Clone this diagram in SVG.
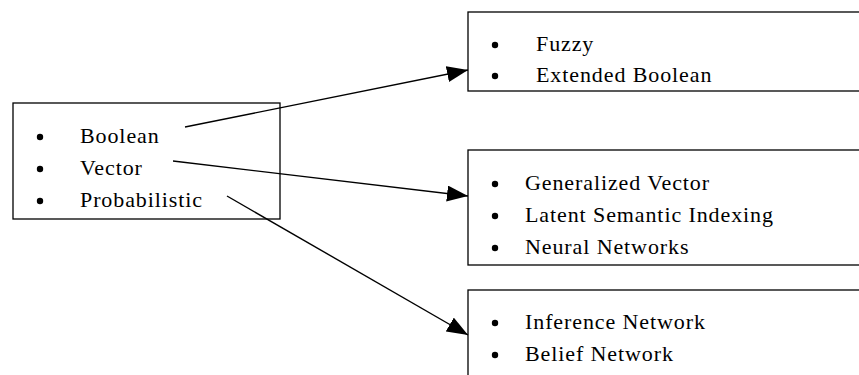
<svg xmlns="http://www.w3.org/2000/svg" width="859" height="375" viewBox="0 0 859 375">
<style>
.box{fill:#fff;stroke:#000;stroke-width:1.3}
.t{font-family:"Liberation Serif","DejaVu Serif",serif;font-size:22px;fill:#000;letter-spacing:0.9px}
.b{fill:#000}
.c{stroke:#000;stroke-width:1.4;fill:none;marker-end:url(#ah)}
</style>
<defs>
<marker id="ah" viewBox="0 0 21 16" refX="21" refY="8" markerWidth="21" markerHeight="16" markerUnits="userSpaceOnUse" orient="auto">
<path d="M0,0 L21,8 L0,16 Z" fill="#000"/>
</marker>
</defs>
<g id="models">
<rect class="box" x="13" y="103" width="267" height="116"/>
<circle class="b" cx="40" cy="137" r="3.2"/><text class="t" x="80" y="143">Boolean</text>
<circle class="b" cx="40" cy="169" r="3.2"/><text class="t" x="80" y="175">Vector</text>
<circle class="b" cx="40" cy="201" r="3.2"/><text class="t" x="80" y="207">Probabilistic</text>
</g>
<g id="settheoretic">
<rect class="box" x="468" y="12" width="400" height="79"/>
<circle class="b" cx="495" cy="45" r="3.2"/><text class="t" x="536" y="51">Fuzzy</text>
<circle class="b" cx="495" cy="76" r="3.2"/><text class="t" x="536" y="82">Extended Boolean</text>
</g>
<g id="algebraic">
<rect class="box" x="468" y="150" width="400" height="115"/>
<circle class="b" cx="495" cy="184" r="3.2"/><text class="t" x="525" y="190">Generalized Vector</text>
<circle class="b" cx="495" cy="216" r="3.2"/><text class="t" x="525" y="222">Latent Semantic Indexing</text>
<circle class="b" cx="495" cy="248" r="3.2"/><text class="t" x="525" y="254">Neural Networks</text>
</g>
<g id="probabilistic">
<rect class="box" x="468" y="290" width="400" height="100"/>
<circle class="b" cx="495" cy="323" r="3.2"/><text class="t" x="525" y="329">Inference Network</text>
<circle class="b" cx="495" cy="355" r="3.2"/><text class="t" x="525" y="361">Belief Network</text>
</g>
<g id="connectors">
<line class="c" x1="185" y1="127" x2="468" y2="70"/>
<line class="c" x1="173" y1="161" x2="468" y2="196"/>
<line class="c" x1="227" y1="196" x2="468" y2="335"/>
</g>
</svg>
